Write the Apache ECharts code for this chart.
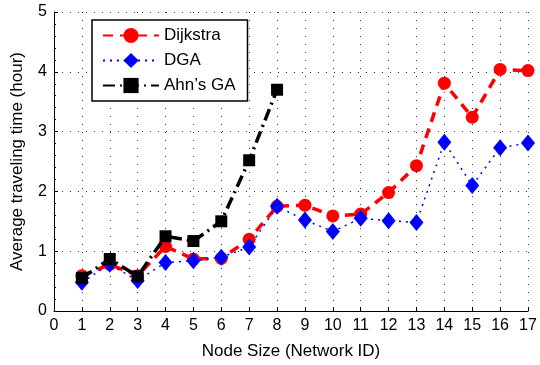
<!DOCTYPE html>
<html>
<head>
<meta charset="utf-8">
<script src="https://cdn.jsdelivr.net/npm/echarts@6/dist/echarts.min.js"></script>
<style>
  html, body { margin: 0; padding: 0; background: #fff; }
  #chart { width: 540px; height: 365px; }
</style>
</head>
<body>
<div id="chart"></div>
<script>
    // values
    const nodeIds = [1, 2, 3, 4, 5, 6, 7, 8, 9, 10, 11, 12, 13, 14, 15, 16, 17];
    const dijkstra = [0.59, 0.78, 0.59, 1.08, 0.87, 0.88, 1.2, 1.75, 1.77, 1.59, 1.62, 1.98, 2.43, 3.81, 3.24, 4.04, 4.02];
    const dga = [0.48, 0.78, 0.51, 0.81, 0.84, 0.9, 1.07, 1.75, 1.52, 1.33, 1.55, 1.51, 1.48, 2.82, 2.1, 2.73, 2.81];
    const ahnIds = [1, 2, 3, 4, 5, 6, 7, 8];
    const ahnGA = [0.55, 0.87, 0.58, 1.25, 1.17, 1.5, 2.52, 3.7];

    const font = 'Liberation Sans, Arial, Helvetica, sans-serif';

    function pairs(xs, ys) {
        return xs.map(function (x, i) { return [x, ys[i]]; });
    }

    let myChart = echarts.init(document.getElementById('chart'), null, { renderer: 'canvas' });

    let gridLine = {
        show: true,
        lineStyle: { color: '#333', type: [1, 7], width: 1 }
    };

    let option = {
        animation: false,
        backgroundColor: '#fff',
        grid: { left: 54, right: 12, top: 12, bottom: 53 },
        legend: {
            orient: 'vertical',
            left: 92,
            top: 20,
            padding: [7, 12, 7, 10],
            itemGap: 8,
            itemWidth: 56,
            itemHeight: 19,
            borderColor: '#000',
            borderWidth: 1.5,
            borderRadius: 0,
            backgroundColor: '#fff',
            textStyle: { fontFamily: font, fontSize: 17, color: '#000' },
            data: ['Dijkstra', 'DGA', 'Ahn\u2019s GA']
        },
        xAxis: {
            type: 'value',
            min: 0,
            max: 17,
            interval: 1,
            name: 'Node Size (Network ID)',
            nameLocation: 'middle',
            nameGap: 32,
            nameTextStyle: { fontFamily: font, fontSize: 17, color: '#000' },
            axisLine: { show: true, onZero: false, lineStyle: { color: '#000', width: 1 } },
            axisTick: { show: true, inside: true, length: 4, lineStyle: { color: '#000' } },
            axisLabel: { fontFamily: font, fontSize: 16, color: '#000', margin: 7 },
            splitLine: gridLine
        },
        yAxis: {
            type: 'value',
            min: 0,
            max: 5,
            interval: 1,
            name: 'Average traveling time (hour)',
            nameLocation: 'middle',
            nameGap: 28,
            nameTextStyle: { fontFamily: font, fontSize: 17, color: '#000' },
            axisLine: { show: true, lineStyle: { color: '#000', width: 1 } },
            axisTick: { show: true, inside: true, length: 4, lineStyle: { color: '#000' } },
            minorTick: { show: true, splitNumber: 5, length: 2, lineStyle: { color: '#000' } },
            axisLabel: { fontFamily: font, fontSize: 16, color: '#000', margin: 7 },
            splitLine: gridLine
        },
        series: [
            {
                name: 'Dijkstra',
                type: 'line',
                data: pairs(nodeIds, dijkstra),
                symbol: 'circle',
                symbolSize: 13,
                itemStyle: { color: '#ff0000' },
                lineStyle: { color: '#ff0000', width: 3.5, type: [10, 7] },
                z: 2
            },
            {
                name: 'DGA',
                type: 'line',
                data: pairs(nodeIds, dga),
                symbol: 'diamond',
                symbolSize: [14, 17],
                itemStyle: { color: '#0000ff' },
                lineStyle: { color: '#0000ff', width: 1.5, type: [2, 5] },
                z: 3
            },
            {
                name: 'Ahn\u2019s GA',
                type: 'line',
                data: pairs(ahnIds, ahnGA),
                symbol: 'rect',
                symbolSize: 12,
                itemStyle: { color: '#000' },
                lineStyle: { color: '#000', width: 3.5, type: [12, 5, 2, 5] },
                z: 4
            }
        ]
    };

    myChart.setOption(option, true);
</script>
</body>
</html>
